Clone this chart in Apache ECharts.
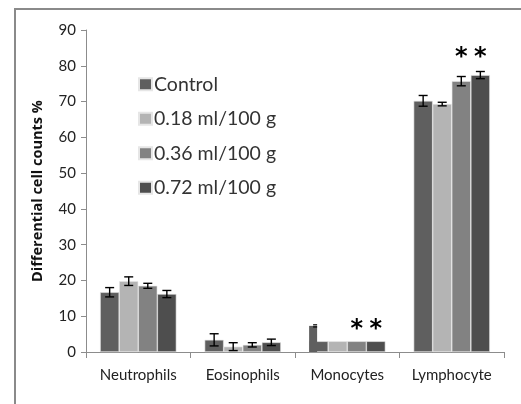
<!DOCTYPE html>
<html>
<head>
<meta charset="utf-8">
<script src="https://cdn.jsdelivr.net/npm/echarts@6/dist/echarts.min.js"></script>
<style>
  html, body { margin: 0; padding: 0; background: #fff; }
  #chart { width: 521px; height: 404px; }
</style>
</head>
<body>
<div id="chart"></div>
<script>
// categories and groups
const cells = ['Neutrophils', 'Eosinophils', 'Monocytes', 'Lymphocyte']
const groups = ['Control', '0.18 ml/100 g', '0.36 ml/100 g', '0.72 ml/100 g']
const colors = ['#5f5f5f', '#b4b4b4', '#828282', '#4e4e4e']

// mean values (%)
const control = [16.7, 3.4, 3.0, 70.2]
const dose018 = [19.8, 1.5, 3.0, 69.3]
const dose036 = [18.5, 2.0, 3.0, 75.7]
const dose072 = [16.2, 2.7, 3.0, 77.4]

// error bars (+/-)
const controlErr = [1.3, 1.7, 0, 1.5]
const dose018Err = [1.2, 1.1, 0, 0.5]
const dose036Err = [0.7, 0.6, 0, 1.3]
const dose072Err = [1.0, 0.9, 0, 1.0]

// the narrow spike on the control monocytes bar, with its tiny error bar
const monoSpike = 7.3
const monoSpikeErr = 0.3

// significance marks: [cell index, group index, height]
const stars = [[2, 2, 7.6], [2, 3, 7.6], [3, 2, 83.6], [3, 3, 83.6]]

const yTicks = { min: 0, max: 90, interval: 10 }

const means = [control, dose018, dose036, dose072]
const errs = [controlErr, dose018Err, dose036Err, dose072Err]
const catGap = 0.27

function barGeom(api, cat, g) {
  const cw = api.size([1, 0])[0]
  const used = cw * (1 - catGap)
  const bw = used / 4
  const cx = api.coord([cat, 0])[0]
  return { x: cx - used / 2 + bw * (g + 0.5), bw: bw }
}

const barSeries = groups.map((name, g) => ({
  name: name,
  type: 'bar',
  data: means[g],
  barGap: '0%',
  barCategoryGap: (catGap * 100) + '%',
  itemStyle: { color: colors[g], borderColor: '#e6e6e6', borderWidth: 0.6 },
  emphasis: { disabled: true }
}))

const errData = []
means.forEach((vals, g) => {
  vals.forEach((v, c) => {
    if (errs[g][c] > 0) errData.push([c, v, errs[g][c], g])
  })
})

const errSeries = {
  type: 'custom',
  silent: true,
  z: 5,
  data: errData,
  renderItem: (params, api) => {
    const c = api.value(0)
    const v = api.value(1)
    const e = api.value(2)
    const g = api.value(3)
    const geo = barGeom(api, c, g)
    const top = api.coord([c, v + e])[1]
    const bot = api.coord([c, v - e])[1]
    const half = 4.5
    const st = { stroke: '#000', lineWidth: 1.4 }
    return {
      type: 'group',
      children: [
        { type: 'line', shape: { x1: geo.x, y1: top, x2: geo.x, y2: bot }, style: st },
        { type: 'line', shape: { x1: geo.x - half, y1: top, x2: geo.x + half, y2: top }, style: st },
        { type: 'line', shape: { x1: geo.x - half, y1: bot, x2: geo.x + half, y2: bot }, style: st }
      ]
    }
  }
}

const spikeSeries = {
  type: 'custom',
  silent: true,
  z: 3,
  data: [[2, monoSpike, monoSpikeErr]],
  renderItem: (params, api) => {
    const c = api.value(0)
    const v = api.value(1)
    const e = api.value(2)
    const geo = barGeom(api, c, 0)
    const x0 = geo.x - geo.bw / 2
    const w = geo.bw * 0.42
    const top = api.coord([c, v])[1]
    const base = api.coord([c, 0])[1]
    const ex = x0 + w - 2
    return {
      type: 'group',
      children: [
        { type: 'rect', shape: { x: x0, y: top, width: w, height: base - top }, style: { fill: colors[0] } },
        { type: 'line', shape: { x1: ex - 2, y1: api.coord([c, v + e])[1], x2: ex + 2, y2: api.coord([c, v + e])[1] }, style: { stroke: '#000', lineWidth: 1.2 } },
        { type: 'line', shape: { x1: ex - 2, y1: api.coord([c, v - e])[1], x2: ex + 2, y2: api.coord([c, v - e])[1] }, style: { stroke: '#000', lineWidth: 1.2 } }
      ]
    }
  }
}

const starSeries = {
  type: 'custom',
  silent: true,
  z: 6,
  data: stars,
  renderItem: (params, api) => {
    const c = api.value(0)
    const g = api.value(1)
    const geo = barGeom(api, c, g)
    const y = api.coord([c, api.value(2)])[1]
    return {
      type: 'text',
      style: {
        x: geo.x, y: y + 5, text: '*',
        font: 'bold 24px "DejaVu Sans"', fill: '#000',
        align: 'center', verticalAlign: 'middle'
      }
    }
  }
}

const chart = echarts.init(document.getElementById('chart'))
chart.setOption({
  animation: false,
  backgroundColor: '#fff',
  graphic: [{
    type: 'rect',
    shape: { x: 15, y: 9, width: 540, height: 420 },
    style: { fill: 'none', stroke: '#8a8a8a', lineWidth: 2 },
    silent: true
  }],
  grid: { left: 86, right: 17, top: 30, bottom: 52 },
  legend: {
    data: groups,
    orient: 'vertical',
    left: 138,
    top: 74,
    padding: 0,
    icon: 'rect',
    itemWidth: 13,
    itemHeight: 12,
    itemGap: 14,
    textStyle: { fontFamily: 'Lato', fontSize: 19.5, color: '#333', lineHeight: 20.5, padding: [0, 0, 0, -3] }
  },
  xAxis: {
    type: 'category',
    data: cells,
    axisLine: { lineStyle: { color: '#8c8c8c', width: 1 } },
    axisTick: { show: true, length: 6, inside: false, alignWithLabel: false, lineStyle: { color: '#8c8c8c' } },
    axisLabel: { interval: 0, fontFamily: 'Lato', fontSize: 15, color: '#222', margin: 16 }
  },
  yAxis: {
    type: 'value',
    min: yTicks.min,
    max: yTicks.max,
    interval: yTicks.interval,
    name: 'Differential cell counts %',
    nameLocation: 'middle',
    nameGap: 41,
    nameTextStyle: { fontFamily: 'Open Sans', fontWeight: 'bold', fontSize: 14.5, color: '#111' },
    axisLine: { show: true, lineStyle: { color: '#8c8c8c', width: 1 } },
    axisTick: { show: true, length: 5, lineStyle: { color: '#8c8c8c' } },
    splitLine: { show: false },
    axisLabel: { fontFamily: 'Lato', fontSize: 15, color: '#222', margin: 10 }
  },
  series: [...barSeries, spikeSeries, errSeries, starSeries]
})
</script>
</body>
</html>
